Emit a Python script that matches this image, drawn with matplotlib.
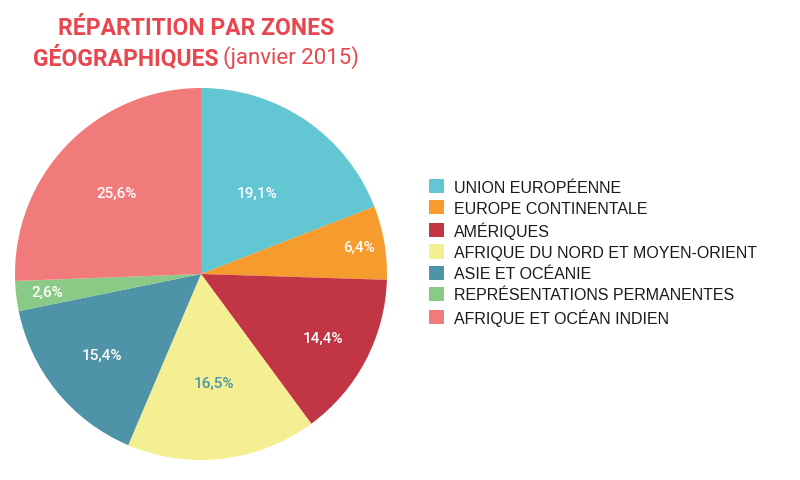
import matplotlib
matplotlib.use('Agg')
import matplotlib.pyplot as plt
import numpy as np

labels = ['UNION EUROPÉENNE', 'EUROPE CONTINENTALE', 'AMÉRIQUES',
          'AFRIQUE DU NORD ET MOYEN-ORIENT', 'ASIE ET OCÉANIE',
          'REPRÉSENTATIONS PERMANENTES', 'AFRIQUE ET OCÉAN INDIEN']
values = [19.1, 6.4, 14.4, 16.5, 15.4, 2.6, 25.6]
colors = ['#63C6D3', '#F69B2E', '#C13545', '#F4EF92', '#4E93A7', '#8ACA86', '#F07B7A']
label_colors = ['white', 'white', 'white', '#4E93A7', 'white', 'white', 'white']
label_radius = [0.53, 0.86, 0.74, 0.59, 0.69, 0.83, 0.63]

fig = plt.figure(figsize=(8, 4.81), dpi=100)
ax = fig.add_axes([0.01875, 0.0416, 0.465, 0.7734])
wedges, _ = ax.pie(values, colors=colors, startangle=90, counterclock=False,
                   radius=1, wedgeprops=dict(linewidth=0))
ax.set_xlim(-1, 1)
ax.set_ylim(-1, 1)
ax.set_aspect('equal')

for w, v, r, c in zip(wedges, values, label_radius, label_colors):
    ang = np.deg2rad((w.theta1 + w.theta2) / 2)
    ax.text(r * np.cos(ang), r * np.sin(ang), f'{v:.1f}%'.replace('.', ','),
            ha='center', va='center', fontsize=11, color=c, fontweight='medium',
            family=['Roboto', 'DejaVu Sans'])

red = '#E8474F'
tfont = ['Roboto', 'DejaVu Sans']
fig.text(196 / 800, 0.94, 'RÉPARTITION PAR ZONES', ha='center', va='center',
         fontsize=16.5, fontweight='bold', color=red, family=tfont)
t1 = fig.text(0, 0.88, 'GÉOGRAPHIQUES', ha='left', va='center',
              fontsize=16.5, fontweight='bold', color=red, family=tfont)
t2 = fig.text(0, 0.88, '(janvier 2015)', ha='left', va='center',
              fontsize=16, color=red, family=tfont)
fig.canvas.draw()
w1 = t1.get_window_extent().width
w2 = t2.get_window_extent().width
gap = 5
x0 = 196 - (w1 + gap + w2) / 2
t1.set_x(x0 / 800)
t2.set_x((x0 + w1 + gap) / 800)

fig.legend(wedges, labels, loc='upper left', bbox_to_anchor=(0.536, 0.626),
           frameon=False, handlelength=0.95, handleheight=1.0, handletextpad=0.65,
           labelspacing=0.35, borderpad=0, borderaxespad=0,
           prop=dict(family=['Liberation Sans', 'DejaVu Sans'], size=11.5),
           labelcolor='#1a1a1a')

fig.savefig('out.png', dpi=100)
